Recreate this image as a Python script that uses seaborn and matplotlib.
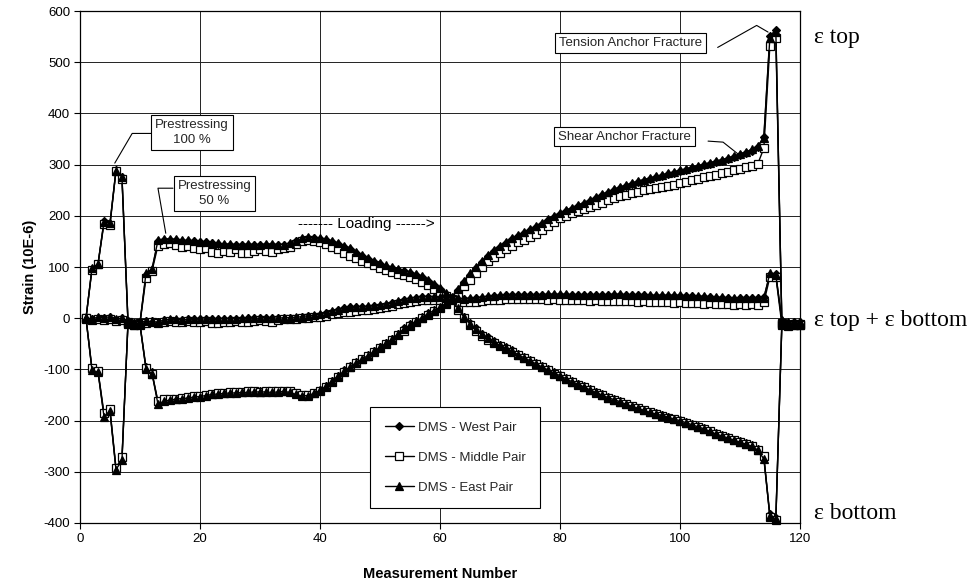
import pandas as pd
import seaborn as sns
import matplotlib.pyplot as plt

# --- dati (misura 1..120) ---
measurement = list(range(1, 121))

west_top = [0, 97, 105, 190, 185, 290, 275, -5, -10, -8,
            85, 95, 150, 152, 153, 152, 150, 151, 150, 148,
            148, 146, 145, 144, 144, 143, 143, 144, 143, 143,
            144, 144, 143, 143, 145, 150, 155, 157, 156, 155,
            153, 149, 145, 140, 135, 128, 121, 116, 110, 105,
            101, 98, 95, 92, 88, 85, 80, 72, 65, 58,
            48, 40, 55, 70, 85, 98, 110, 122, 132, 140,
            147, 154, 160, 166, 172, 178, 185, 192, 198, 204,
            209, 214, 219, 224, 229, 234, 240, 245, 250, 254,
            258, 262, 266, 269, 272, 275, 278, 281, 284, 287,
            290, 293, 296, 299, 302, 305, 308, 311, 314, 318,
            322, 327, 335, 355, 552, 563, -8, -12, -10, -10]
west_bottom = [0, -100, -103, -190, -180, -295, -275, -10, -12, -12,
               -95, -105, -165, -160, -158, -157, -156, -155, -153, -152,
               -150, -148, -147, -146, -145, -145, -144, -144, -143, -143,
               -143, -144, -143, -142, -144, -148, -151, -150, -146, -140,
               -132, -122, -112, -102, -93, -86, -79, -72, -64, -56,
               -48, -40, -30, -20, -12, -5, 2, 10, 16, 22,
               30, 38, 20, 3, -10, -20, -30, -37, -45, -52,
               -57, -63, -70, -76, -82, -88, -94, -100, -106, -111,
               -117, -123, -128, -133, -139, -144, -149, -154, -158, -162,
               -167, -171, -175, -179, -183, -186, -189, -192, -196, -199,
               -203, -207, -211, -215, -220, -225, -229, -233, -237, -240,
               -244, -248, -255, -272, -383, -390, -12, -14, -12, -12]
west_sum = [0, -2, 1, 0, 2, -3, 0, -8, -11, -10,
            -5, -5, -7, -4, -3, -3, -3, -2, -2, -2,
            -1, -1, -1, -1, -1, -1, -1, 0, 0, 0,
            0, 0, 0, 0, 0, 1, 2, 4, 5, 7,
            10, 13, 16, 19, 21, 21, 21, 22, 23, 24,
            26, 29, 32, 36, 38, 40, 41, 41, 40, 40,
            39, 39, 38, 37, 38, 39, 40, 42, 43, 44,
            45, 45, 45, 45, 45, 45, 45, 46, 46, 46,
            46, 45, 45, 45, 45, 45, 45, 45, 46, 46,
            45, 45, 45, 45, 44, 44, 44, 44, 44, 44,
            43, 43, 42, 42, 41, 40, 40, 39, 38, 39,
            39, 39, 40, 41, 85, 86, -5, -10, -8, -8]

middle_top = [0, 95, 105, 185, 182, 288, 272, -8, -12, -10,
              78, 92, 142, 145, 146, 144, 140, 142, 138, 135,
              137, 130, 128, 132, 130, 135, 128, 128, 132, 136,
              132, 130, 136, 138, 140, 145, 150, 152, 150, 148,
              145, 140, 135, 128, 122, 117, 112, 108, 103, 98,
              95, 90, 87, 84, 80, 76, 70, 64, 58, 50,
              44, 38, 48, 62, 75, 88, 100, 112, 120, 128,
              136, 142, 148, 152, 158, 165, 172, 180, 188, 195,
              200, 205, 210, 214, 218, 222, 226, 230, 234, 238,
              241, 244, 247, 250, 252, 254, 256, 259, 261, 264,
              267, 270, 272, 275, 277, 280, 283, 286, 289, 292,
              295, 298, 302, 332, 532, 548, -10, -14, -12, -12]
middle_bottom = [0, -98, -103, -185, -178, -292, -272, -12, -14, -14,
                 -98, -108, -162, -158, -157, -157, -155, -154, -152, -152,
                 -150, -148, -146, -146, -145, -144, -144, -143, -143, -144,
                 -142, -143, -143, -142, -143, -147, -150, -150, -147, -142,
                 -135, -125, -115, -105, -96, -88, -80, -73, -66, -58,
                 -50, -42, -33, -24, -15, -7, 0, 7, 14, 20,
                 28, 35, 16, 0, -14, -24, -34, -42, -48, -55,
                 -60, -66, -72, -78, -84, -90, -96, -102, -108, -113,
                 -119, -124, -130, -135, -140, -146, -150, -155, -160, -164,
                 -168, -172, -176, -180, -184, -188, -191, -194, -197, -201,
                 -205, -209, -213, -217, -221, -226, -230, -234, -238, -242,
                 -246, -250, -257, -270, -388, -395, -14, -15, -13, -13]
middle_sum = [-2, -3, -2, -4, -2, -5, -3, -10, -13, -12,
              -10, -8, -10, -7, -6, -7, -8, -6, -7, -8,
              -6, -9, -9, -7, -8, -5, -8, -8, -6, -4,
              -5, -7, -4, -2, -2, -1, 0, 1, 2, 3,
              5, 8, 10, 12, 13, 14, 16, 17, 18, 20,
              22, 24, 27, 30, 32, 34, 35, 35, 36, 35,
              36, 37, 32, 31, 31, 32, 33, 35, 36, 36,
              37, 37, 38, 37, 38, 37, 37, 36, 37, 36,
              36, 35, 36, 35, 34, 35, 34, 33, 34, 33,
              34, 33, 32, 33, 32, 31, 32, 31, 30, 31,
              30, 30, 29, 28, 29, 27, 28, 27, 26, 27,
              26, 27, 26, 31, 80, 81, -12, -14, -13, -13]

east_top = [0, 98, 106, 188, 186, 288, 276, -6, -10, -9,
            88, 96, 152, 155, 155, 154, 152, 152, 150, 149,
            148, 147, 146, 145, 145, 144, 144, 145, 144, 144,
            145, 145, 144, 144, 146, 151, 156, 158, 157, 156,
            154, 151, 147, 142, 137, 130, 123, 118, 112, 107,
            103, 100, 96, 93, 90, 86, 82, 75, 67, 60,
            50, 42, 58, 73, 88, 100, 112, 124, 134, 142,
            149, 156, 162, 168, 174, 180, 187, 194, 200, 206,
            211, 216, 221, 226, 231, 236, 242, 247, 252, 256,
            260, 264, 268, 271, 274, 277, 280, 283, 286, 289,
            292, 295, 298, 301, 304, 307, 310, 313, 317, 321,
            325, 330, 337, 352, 548, 560, -6, -10, -9, -9]
east_bottom = [0, -102, -105, -192, -182, -296, -277, -9, -11, -11,
               -100, -108, -168, -162, -160, -158, -157, -156, -154, -153,
               -151, -149, -148, -147, -146, -146, -145, -145, -144, -144,
               -144, -145, -144, -143, -145, -149, -152, -151, -147, -141,
               -133, -123, -113, -104, -95, -87, -80, -73, -65, -57,
               -49, -41, -31, -21, -13, -6, 1, 9, 15, 21,
               29, 37, 19, 2, -11, -21, -31, -38, -46, -53,
               -58, -64, -71, -77, -83, -89, -95, -101, -107, -112,
               -118, -124, -129, -134, -140, -145, -150, -155, -159, -163,
               -168, -172, -176, -180, -184, -187, -190, -193, -197, -200,
               -204, -208, -212, -216, -221, -226, -230, -234, -238, -242,
               -246, -250, -258, -275, -386, -392, -11, -13, -11, -11]
east_sum = [1, -1, 2, 1, 3, -2, 1, -7, -10, -9,
            -6, -6, -8, -3, -2, -2, -3, -2, -2, -2,
            -1, -1, -1, -1, -1, -1, 0, 0, 0, 0,
            1, 1, 0, 1, 1, 2, 3, 5, 6, 8,
            11, 14, 17, 19, 21, 22, 22, 23, 24, 25,
            27, 30, 33, 36, 39, 40, 42, 42, 41, 41,
            40, 40, 39, 38, 39, 40, 41, 43, 44, 45,
            46, 46, 46, 46, 46, 46, 46, 47, 47, 47,
            47, 46, 46, 46, 46, 46, 46, 46, 47, 47,
            46, 46, 46, 46, 45, 45, 45, 45, 45, 45,
            44, 44, 43, 43, 42, 41, 41, 40, 40, 40,
            40, 40, 40, 39, 88, 84, -3, -8, -7, -7]

pairs = ["DMS - West Pair", "DMS - Middle Pair", "DMS - East Pair"]
traces = ["top", "sum", "bottom"]
series = {
    "DMS - West Pair": [west_top, west_sum, west_bottom],
    "DMS - Middle Pair": [middle_top, middle_sum, middle_bottom],
    "DMS - East Pair": [east_top, east_sum, east_bottom],
}

# formato lungo per seaborn
rows = []
for pair in pairs:
    for trace, vals in zip(traces, series[pair]):
        for m, v in zip(measurement, vals):
            rows.append({"pair": pair, "trace": trace, "m": m, "strain": v})
df = pd.DataFrame(rows)

# stile dei marker per coppia
marker_style = {
    "DMS - West Pair": dict(marker="D", markersize=4.4, markerfacecolor="black"),
    "DMS - Middle Pair": dict(marker="s", markersize=6.2, markerfacecolor="white"),
    "DMS - East Pair": dict(marker="^", markersize=5.8, markerfacecolor="black"),
}

sns.set_theme(style="white")
plt.rcParams["font.family"] = ["Liberation Sans", "DejaVu Sans"]
plt.rcParams["axes.unicode_minus"] = False

fig, ax = plt.subplots(figsize=(9.79, 5.84), dpi=100)
fig.subplots_adjust(left=0.0817, right=0.817, top=0.981, bottom=0.1045)

for pair in pairs:
    for i, trace in enumerate(traces):
        d = df[(df["pair"] == pair) & (df["trace"] == trace)]
        sns.lineplot(data=d, x="m", y="strain", ax=ax, color="black",
                     linewidth=1.0, markeredgecolor="black", markeredgewidth=0.9,
                     errorbar=None, clip_on=False,
                     label=pair if i == 0 else None, **marker_style[pair])

ax.set_xlim(0, 120)
ax.set_ylim(-400, 600)
ax.set_xticks(range(0, 121, 20))
ax.set_yticks(range(-400, 601, 100))
ax.grid(True, color="#222222", linewidth=0.7)
ax.set_axisbelow(True)
for sp in ax.spines.values():
    sp.set_color("black")
    sp.set_linewidth(0.9)
ax.tick_params(bottom=True, left=True, direction="out", length=4, width=0.8,
               colors="black", labelsize=9.5, pad=3)

ax.set_xlabel("Measurement Number", fontsize=10.5, fontweight="bold", color="black")
ax.set_ylabel("Strain (10E-6)", fontsize=10.5, fontweight="bold", color="black")
ax.xaxis.set_label_coords(0.5, -0.086)
ax.yaxis.set_label_coords(-0.06, 0.5)

# riquadri di annotazione con linee di richiamo
callouts = [
    ("Prestressing\n100 %", (18.7, 363), [(12.0, 361), (8.7, 361), (5.8, 303)]),
    ("Prestressing\n50 %", (22.4, 244), [(15.5, 254), (13.0, 254), (14.3, 166)]),
    ("Tension Anchor Fracture", (91.7, 537), [(106.3, 529), (112.8, 572), (114.7, 559)]),
    ("Shear Anchor Fracture", (90.75, 355), [(104.7, 346), (107.2, 344), (110.0, 318)]),
]
for text, (tx, ty), path in callouts:
    ax.plot([p[0] for p in path], [p[1] for p in path], color="black", lw=0.8)
    ax.text(tx, ty, text, ha="center", va="center", fontsize=9.5, linespacing=1.35,
            bbox=dict(boxstyle="square,pad=0.3", fc="white", ec="black", lw=0.8),
            zorder=5)

ax.text(47.8, 185, "------- Loading ------>", ha="center", va="center",
        fontsize=11, color="black")

# etichette a destra
serif = ["Liberation Serif", "DejaVu Serif"]
for label, yv in [("ε top", 549), ("ε top + ε bottom", -4), ("ε bottom", -381)]:
    ax.text(122.3, yv, label, ha="left", va="center", fontsize=17,
            family=serif, color="black", clip_on=False)

leg = ax.legend(loc="upper left", bbox_to_anchor=(0.403, 0.2266), frameon=True,
                fancybox=False, edgecolor="black", framealpha=1, fontsize=9.5,
                borderpad=1.1, labelspacing=1.35, handlelength=2.2,
                handletextpad=0.3, borderaxespad=0)
leg.get_frame().set_linewidth(0.8)

plt.savefig("out.png", dpi=100)
plt.close()
